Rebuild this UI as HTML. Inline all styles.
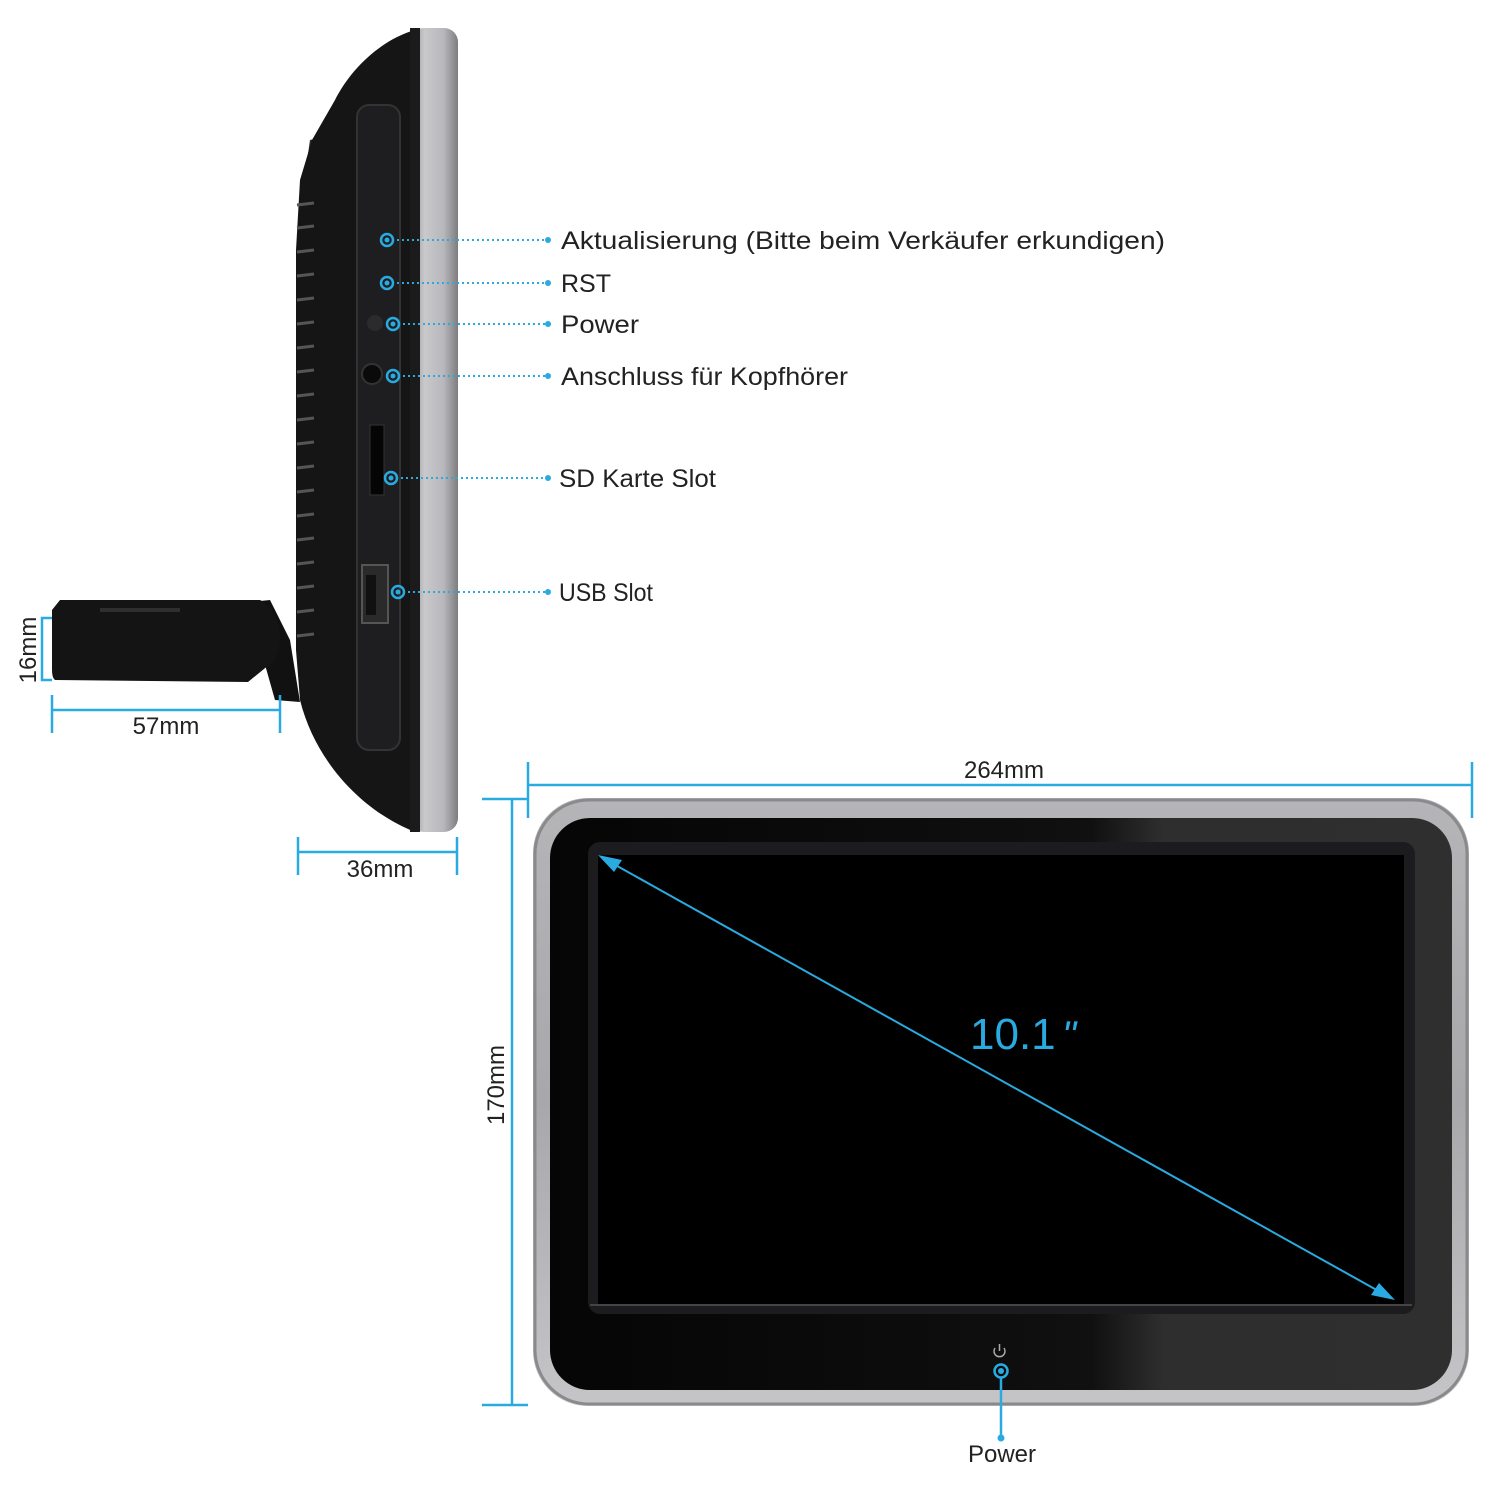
<!DOCTYPE html>
<html><head><meta charset="utf-8"><style>
html,body{margin:0;padding:0;background:#fff;}
svg{display:block;}
text{font-family:"Liberation Sans",sans-serif;fill:#222;}
</style></head><body>
<svg width="1500" height="1500" viewBox="0 0 1500 1500" xmlns="http://www.w3.org/2000/svg">
<defs>
<linearGradient id="silv" x1="0" x2="1" y1="0" y2="0">
<stop offset="0" stop-color="#8a8a8e"/><stop offset="0.3" stop-color="#c9c9cc"/><stop offset="0.7" stop-color="#b8b8bc"/><stop offset="1" stop-color="#7d7d80"/>
</linearGradient>
<linearGradient id="silv2" x1="0" x2="0" y1="0" y2="1">
<stop offset="0" stop-color="#b5b5b8"/><stop offset="0.5" stop-color="#a8a8ab"/><stop offset="1" stop-color="#c5c5c8"/>
</linearGradient>
<linearGradient id="bez" x1="0" x2="1" y1="0" y2="0">
<stop offset="0" stop-color="#050505"/><stop offset="0.6" stop-color="#101010"/><stop offset="0.68" stop-color="#2e2e2e"/><stop offset="1" stop-color="#2f2f2f"/>
</linearGradient>
</defs>

<!-- side view -->
<path d="M310 140 L330 135 L338 150 L305 175 Z" fill="#2a2a2c"/>
<path d="M415 30 C380 40 350 70 335 100 L312 140 L300 180 L296 250 L296 650 L300 700 C315 760 360 810 415 832 Z" fill="#151516"/>
<rect x="410" y="28" width="48" height="804" rx="14" fill="url(#silv)"/>
<rect x="410" y="28" width="10" height="804" fill="#1b1b1c"/>
<rect x="357" y="105" width="43" height="645" rx="12" fill="#1e1e20" stroke="#333" stroke-width="2"/>
<g stroke="#555" stroke-width="3">
<line x1="297" y1="205" x2="314" y2="203"/><line x1="297" y1="228" x2="314" y2="226"/><line x1="297" y1="252" x2="314" y2="250"/><line x1="297" y1="276" x2="314" y2="274"/><line x1="297" y1="300" x2="314" y2="298"/><line x1="297" y1="324" x2="314" y2="322"/><line x1="297" y1="348" x2="314" y2="346"/><line x1="297" y1="372" x2="314" y2="370"/><line x1="297" y1="396" x2="314" y2="394"/><line x1="297" y1="420" x2="314" y2="418"/><line x1="297" y1="444" x2="314" y2="442"/><line x1="297" y1="468" x2="314" y2="466"/><line x1="297" y1="492" x2="314" y2="490"/><line x1="297" y1="516" x2="314" y2="514"/><line x1="297" y1="540" x2="314" y2="538"/><line x1="297" y1="564" x2="314" y2="562"/><line x1="297" y1="588" x2="314" y2="586"/><line x1="297" y1="612" x2="314" y2="610"/><line x1="297" y1="636" x2="314" y2="634"/>
</g>
<circle cx="375" cy="323" r="8" fill="#2b2b2b"/>
<circle cx="372" cy="374" r="10" fill="#0a0a0a" stroke="#333" stroke-width="2"/>
<rect x="370" y="425" width="14" height="70" fill="#050505" stroke="#333"/>
<rect x="362" y="565" width="26" height="58" fill="#2a2a2a" stroke="#555" stroke-width="2"/>
<rect x="366" y="575" width="10" height="40" fill="#111"/>
<!-- stand -->
<path d="M290 640 L270 600 L250 602 L258 640 L275 700 L300 702 Z" fill="#111"/>
<path d="M60 600 L260 600 C280 610 285 640 275 660 L248 682 L55 680 Q52 678 52 670 L52 610 Z" fill="#141414"/>
<rect x="100" y="608" width="80" height="4" fill="#2e2e2e"/>

<!-- dims side -->
<g stroke="#29abe2" stroke-width="2.5" fill="none">
<path d="M52 618 L42 618 L42 680 L52 680"/>
<line x1="52" y1="695" x2="52" y2="733"/><line x1="280" y1="695" x2="280" y2="733"/><line x1="52" y1="710" x2="280" y2="710"/>
<line x1="298" y1="837" x2="298" y2="875"/><line x1="457" y1="837" x2="457" y2="875"/><line x1="298" y1="852" x2="457" y2="852"/>
</g>
<text x="36" y="650" font-size="24" transform="rotate(-90 36 650)" text-anchor="middle" fill="#333">16mm</text>
<text x="166" y="734" font-size="24" text-anchor="middle" fill="#333">57mm</text>
<text x="380" y="877" font-size="24" text-anchor="middle" fill="#333">36mm</text>

<!-- callouts -->
<g stroke="#29abe2" stroke-width="2" stroke-dasharray="2 3">
<line x1="392" y1="240" x2="548" y2="240"/><line x1="392" y1="283" x2="548" y2="283"/><line x1="398" y1="324" x2="548" y2="324"/><line x1="398" y1="376" x2="548" y2="376"/><line x1="396" y1="478" x2="548" y2="478"/><line x1="403" y1="592" x2="548" y2="592"/>
</g>
<g fill="none" stroke="#29abe2" stroke-width="2.5">
<circle cx="387" cy="240" r="6"/><circle cx="387" cy="283" r="6"/><circle cx="393" cy="324" r="6"/><circle cx="393" cy="376" r="6"/><circle cx="391" cy="478" r="6"/><circle cx="398" cy="592" r="6"/>
</g>
<g fill="#29abe2">
<circle cx="387" cy="240" r="2.5"/><circle cx="387" cy="283" r="2.5"/><circle cx="393" cy="324" r="2.5"/><circle cx="393" cy="376" r="2.5"/><circle cx="391" cy="478" r="2.5"/><circle cx="398" cy="592" r="2.5"/>
<circle cx="548" cy="240" r="3"/><circle cx="548" cy="283" r="3"/><circle cx="548" cy="324" r="3"/><circle cx="548" cy="376" r="3"/><circle cx="548" cy="478" r="3"/><circle cx="548" cy="592" r="3"/>
</g>
<text x="561" y="249" font-size="25" textLength="604" lengthAdjust="spacingAndGlyphs">Aktualisierung (Bitte beim Verkäufer erkundigen)</text>
<text x="561" y="292" font-size="25">RST</text>
<text x="561" y="333" font-size="25" textLength="78" lengthAdjust="spacingAndGlyphs">Power</text>
<text x="561" y="385" font-size="25" textLength="287" lengthAdjust="spacingAndGlyphs">Anschluss für Kopfhörer</text>
<text x="559" y="487" font-size="25" textLength="157" lengthAdjust="spacingAndGlyphs">SD Karte Slot</text>
<text x="559" y="601" font-size="25" textLength="94" lengthAdjust="spacingAndGlyphs">USB Slot</text>

<!-- front view -->
<rect x="533" y="798" width="936" height="608" rx="55" fill="url(#silv2)"/>
<rect x="535" y="800" width="932" height="604" rx="54" fill="none" stroke="#8a8a8d" stroke-width="3"/>
<rect x="550" y="818" width="902" height="572" rx="40" fill="url(#bez)"/>
<rect x="588" y="842" width="827" height="472" rx="12" fill="#1c1c1e"/>
<rect x="598" y="855" width="806" height="450" fill="#000"/>
<line x1="590" y1="1305" x2="1412" y2="1305" stroke="#444" stroke-width="2"/>

<g stroke="#29abe2" stroke-width="2.5">
<line x1="528" y1="762" x2="528" y2="818"/><line x1="1472" y1="762" x2="1472" y2="818"/><line x1="528" y1="785" x2="1472" y2="785"/>
<line x1="482" y1="799" x2="528" y2="799"/><line x1="482" y1="1405" x2="528" y2="1405"/><line x1="512" y1="799" x2="512" y2="1405"/>
<line x1="610" y1="862" x2="1382" y2="1293" stroke-width="2"/>
</g>
<polygon points="598,855 622,860 614,872" fill="#29abe2"/>
<polygon points="1395,1300 1371,1295 1379,1283" fill="#29abe2"/>
<text x="1004" y="778" font-size="24" text-anchor="middle" fill="#333">264mm</text>
<text x="504" y="1085" font-size="24" text-anchor="middle" fill="#333" transform="rotate(-90 504 1085)">170mm</text>
<text x="970" y="1049" font-size="44" style="fill:#29abe2">10.1</text>
<text x="1062" y="1049" font-size="40" font-style="italic" style="fill:#29abe2">"</text>

<!-- power -->
<path d="M995 1348 A5.5 5.5 0 1 0 1004 1348" fill="none" stroke="#aaa" stroke-width="1.5"/>
<line x1="999.5" y1="1344" x2="999.5" y2="1351" stroke="#aaa" stroke-width="1.5"/>
<circle cx="1001" cy="1371" r="6.5" fill="none" stroke="#29abe2" stroke-width="2.5"/>
<circle cx="1001" cy="1371" r="3" fill="#29abe2"/>
<line x1="1001" y1="1377" x2="1001" y2="1438" stroke="#29abe2" stroke-width="2.5"/>
<circle cx="1001" cy="1438" r="3.5" fill="#29abe2"/>
<text x="1002" y="1462" font-size="24" text-anchor="middle" fill="#333">Power</text>
</svg>
</body></html>
